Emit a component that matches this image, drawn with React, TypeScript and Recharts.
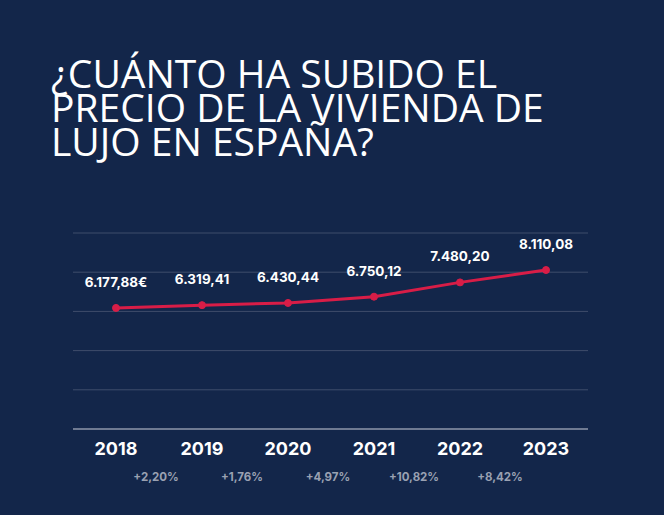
import React from 'react';
import { LineChart, Line, XAxis, YAxis, CartesianGrid, LabelList } from 'recharts';

const years = ['2018', '2019', '2020', '2021', '2022', '2023'];
const prices = [6177.88, 6319.41, 6430.44, 6750.12, 7480.2, 8110.08];
const growth = [2.2, 1.76, 4.97, 10.82, 8.42];
const yTicks = [0, 2000, 4000, 6000, 8000, 10000];
const titleLines = ['¿CUÁNTO HA SUBIDO EL', 'PRECIO DE LA VIVIENDA DE', 'LUJO EN ESPAÑA?'];

const data = years.map((year, i) => ({ year, price: prices[i] }));

const BG = '#13264a';
const FONT = 'Inter, "Open Sans", sans-serif';
const STEP = 86;

const fmtEs = (v: number, digits = 2) => {
  const [int, dec] = v.toFixed(digits).split('.');
  return int.replace(/\B(?=(\d{3})+(?!\d))/g, '.') + ',' + dec;
};

const YearTick = (props: any) => {
  const { x, y, payload, index } = props;
  return (
    <g>
      <text
        x={x}
        y={y + 17}
        textAnchor="middle"
        dominantBaseline="central"
        fill="#ffffff"
        fontSize={18}
        fontWeight={700}
        fontFamily={FONT}
      >
        {payload.value}
      </text>
      {index > 0 && (
        <text
          x={x - STEP / 2 - 3}
          y={y + 46}
          textAnchor="middle"
          dominantBaseline="central"
          fill="#9aa1b2"
          fontSize={11.5}
          fontWeight={700}
          fontFamily={FONT}
        >
          {'+' + fmtEs(growth[index - 1]) + '%'}
        </text>
      )}
    </g>
  );
};

const PriceLabel = (props: any) => {
  const { x, y, value, index } = props;
  return (
    <text
      x={x}
      y={y - 26}
      textAnchor="middle"
      dominantBaseline="central"
      fill="#ffffff"
      fontSize={13.5}
      fontWeight={700}
      fontFamily={FONT}
    >
      {fmtEs(value) + (index === 0 ? '€' : '')}
    </text>
  );
};

export default function App() {
  return (
    <div
      style={{
        position: 'absolute',
        left: 0,
        top: 0,
        width: 664,
        height: 515,
        background: BG,
        overflow: 'hidden',
      }}
    >
      <div
        style={{
          position: 'absolute',
          left: 51,
          top: 56,
          color: '#ffffff',
          fontFamily: '"Open Sans", sans-serif',
          fontWeight: 400,
          fontSize: 39,
        }}
      >
        {titleLines.map((t) => (
          <div key={t} style={{ height: 34, lineHeight: '34px', whiteSpace: 'nowrap' }}>
            {t}
          </div>
        ))}
      </div>
      <div style={{ position: 'absolute', left: 0, top: 0 }}>
        <LineChart
          width={664}
          height={515}
          data={data}
          margin={{ top: 233, right: 76, bottom: 26, left: 73 }}
        >
          <CartesianGrid horizontal vertical={false} stroke="#3f4d6b" strokeWidth={1} />
          <YAxis hide domain={[0, 10000]} ticks={yTicks} />
          <XAxis
            dataKey="year"
            height={60}
            interval={0}
            padding={{ left: 43, right: 42 }}
            axisLine={{ stroke: '#6f7a92', strokeWidth: 2 }}
            tickLine={false}
            tickSize={0}
            tick={<YearTick />}
          />
          <Line
            type="linear"
            dataKey="price"
            stroke="#d81d47"
            strokeWidth={3}
            dot={{ r: 3.5, fill: '#d81d47', stroke: '#d81d47', strokeWidth: 1 }}
            isAnimationActive={false}
          >
            <LabelList dataKey="price" content={<PriceLabel />} />
          </Line>
        </LineChart>
      </div>
    </div>
  );
}
